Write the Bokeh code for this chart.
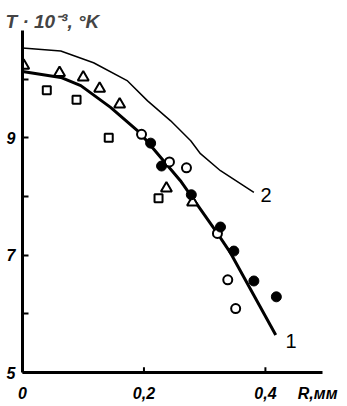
from bokeh.plotting import figure
from bokeh.models import FixedTicker, Label, Range1d
from bokeh.embed import file_html
from bokeh.resources import INLINE

# curve 1 (thick)
c1_r = [0.0, 0.063, 0.096, 0.145, 0.194, 0.26, 0.277, 0.321, 0.343, 0.417]
c1_t = [10.13, 10.03, 9.89, 9.52, 9.08, 8.27, 8.02, 7.37, 7.03, 5.64]
# curve 2 (thin)
c2_r = [0.0, 0.063, 0.117, 0.173, 0.206, 0.244, 0.277, 0.293, 0.326, 0.381]
c2_t = [10.53, 10.48, 10.28, 9.97, 9.63, 9.29, 8.95, 8.73, 8.44, 8.07]

tri_r = [0.002, 0.061, 0.100, 0.127, 0.160, 0.237, 0.280]
tri_t = [10.23, 10.11, 10.03, 9.84, 9.57, 8.14, 7.90]
sq_r = [0.040, 0.089, 0.142, 0.224]
sq_t = [9.81, 9.65, 9.00, 7.97]
oc_r = [0.196, 0.242, 0.270, 0.321, 0.338, 0.351]
oc_t = [9.06, 8.59, 8.49, 7.37, 6.58, 6.09]
fc_r = [0.211, 0.229, 0.278, 0.326, 0.348, 0.381, 0.418]
fc_t = [8.91, 8.52, 8.03, 7.48, 7.07, 6.56, 6.29]

x_ticks = [0, 0.2, 0.4]
x_labels = ["0", "0,2", "0,4"]
x_name_pos = 0.486
x_name = "R,мм"
y_ticks = [5, 6, 7, 8, 9, 10]
y_labels = ["5", "", "7", "", "9", ""]
y_title = "T · 10⁻³, °K"

X0, X1, Y0, Y1 = 0, 0.494, 5, 10.83

p = figure(width=347, height=406, x_range=Range1d(X0, X1), y_range=Range1d(Y0, Y1),
           output_backend="svg", toolbar_location=None,
           min_border_left=22, min_border_right=25, min_border_top=30, min_border_bottom=34)
p.outline_line_color = None
p.grid.visible = False
p.background_fill_color = "white"

p.title.text = y_title
p.title.align = "left"
p.title.offset = -17
p.title.text_font = "Liberation Sans"
p.title.text_font_style = "bold italic"
p.title.text_font_size = "19px"
p.title.standoff = -3

xa = p.xaxis[0]
xa.ticker = FixedTicker(ticks=x_ticks + [x_name_pos])
xa.major_label_overrides = dict(zip(x_ticks + [x_name_pos], x_labels + [x_name]))
xa.major_tick_line_color = None
xa.major_label_standoff = 6

ya = p.yaxis[0]
ya.ticker = FixedTicker(ticks=y_ticks)
ya.major_label_overrides = dict(zip(y_ticks, y_labels))
ya.major_tick_in = 6
ya.major_tick_out = 0
ya.major_tick_line_width = 2
ya.major_label_standoff = 7

for ax in (xa, ya):
    ax.axis_line_width = 3
    ax.axis_line_color = "black"
    ax.minor_tick_line_color = None
    ax.major_label_text_font = "Liberation Sans"
    ax.major_label_text_font_style = "bold italic"
    ax.major_label_text_font_size = "16px"
    ax.major_label_text_color = "black"

# inward tick marks on the x axis (0,2 and 0,4)
tick_x = [t for t in x_ticks if t > X0]
tick_h = 0.09
p.segment(x0=tick_x, y0=[Y0] * len(tick_x), x1=tick_x, y1=[Y0 + tick_h] * len(tick_x),
          line_width=2, line_color="black")

p.line(c2_r, c2_t, line_width=1.5, line_color="black")
p.line(c1_r, c1_t, line_width=3, line_color="black", line_join="round")

p.scatter(tri_r, tri_t, marker="triangle", size=11, fill_color="white", line_color="black", line_width=2)
p.scatter(sq_r, sq_t, marker="square", size=8, fill_color="white", line_color="black", line_width=2)
p.scatter(oc_r, oc_t, marker="circle", size=9, fill_color="white", line_color="black", line_width=2)
p.scatter(fc_r, fc_t, marker="circle", size=10, fill_color="black", line_color="black", line_width=1)

p.add_layout(Label(x=0.433, y=5.42, text="1", text_font="Liberation Sans",
                   text_font_size="20px", text_color="black"))
p.add_layout(Label(x=0.392, y=7.90, text="2", text_font="Liberation Sans",
                   text_font_size="20px", text_color="black"))

open("out.html", "w").write(file_html(p, INLINE))
